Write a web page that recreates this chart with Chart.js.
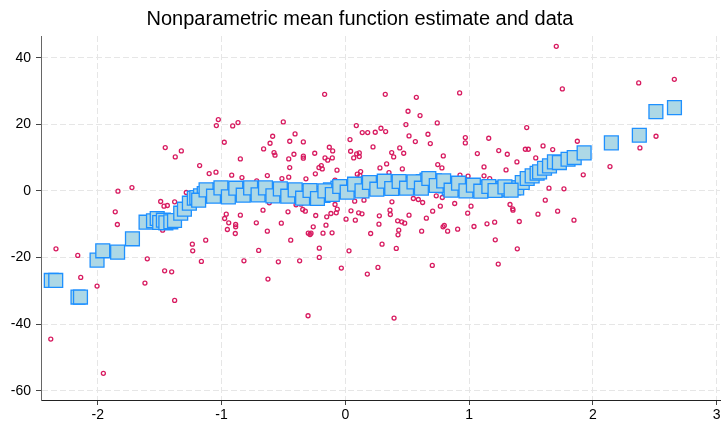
<!DOCTYPE html>
<html>
<head>
<meta charset="utf-8">
<script src="https://cdn.jsdelivr.net/npm/chart.js@4.4.1/dist/chart.umd.min.js"></script>
<style>
  html, body { margin: 0; padding: 0; background: #fff; }
  #wrap { width: 723px; height: 424px; }
</style>
</head>
<body>
<div id="wrap"><canvas id="c" width="723" height="424"></canvas></div>
<script>
/* ── data ── */

const TITLE = 'Nonparametric mean function estimate and data';
const X_TICKS = [-2, -1, 0, 1, 2, 3];
const Y_TICKS = [-60, -40, -20, 0, 20, 40];

// observed data (hollow circles)
const DATA_X = [
  -1.026, -1.042, -0.867, -0.91, -0.978, -1.455, -1.374, -1.325, -1.177, -1.10, -1.045, -0.848, -0.918, -0.835, -0.66,
  -0.63, -0.716, -1.837, -1.724, -1.859, -1.492, -1.465, -1.438, -1.379, -1.285, -0.962, -0.975, -0.848, -0.665,
  -1.842, -2.338, -2.162, -2.138, -2.006, -2.38, -1.955, -1.60, -1.619, -1.46, -1.403, -1.379, -1.236, -1.233, -1.128,
  -1.163, -1.476, -0.942, -0.886, -0.886, -0.953, -0.889, -0.719, -0.70, -0.819, -0.63, -0.625,
  -0.167, 0.323, 0.574, 0.924, 0.507, 0.604, 0.743, -0.501, 0.089, 0.137, 0.181, 0.242, 0.288, 0.326, 0.49, 0.515,
  0.566, 0.668, 0.687, 0.97, 0.97, 1.159, -0.587, -0.608, -0.406, -0.449, -0.339, -0.576, -0.568, -0.415, -0.339,
  -0.339, -0.247, -0.457, -0.129, -0.102, -0.164, -0.142, -0.105, -0.194, -0.213, -0.186, -0.449, -0.242, -0.067,
  -0.457, -0.512, -0.318, 0.038, 0.043, 0.092, 0.113, 0.113, 0.068, 0.224, 0.375, 0.391, 0.334, 0.28, 0.44, 0.472,
  0.461, 0.097, 0.124, 0.119, 0.792, 0.747, 0.781, 1.067, 1.121, 0.927, 0.992, 1.121,
  -0.614, -0.463, -0.398, -0.358, -0.344, -0.323, -0.239, -0.083, -0.065, -0.073, -0.116, 0.076, 0.046, 0.108, 0.135,
  0.151, 0.275, 0.361, 0.364, 0.377, 0.515, 0.55, 0.59, 0.625, 0.735, 0.784, 0.706, 0.768, 0.884, 1.016, 0.989, 0.655,
  -0.517, -0.441, -0.259, -0.299, -0.285, -0.277, -0.150, -0.156, -0.18, -0.107, -0.21, -0.21, -0.541, -0.369, -0.301,
  -0.032, 0.006, 0.030, 0.081, 0.205, 0.178, 0.264, 0.297, 0.272, 0.423, 0.456, 0.48, 0.432, 0.426, 0.412, 0.394,
  0.617, 0.703, 0.79, 0.80, 0.827, 0.908, 1.04, 1.145,
  1.207, 1.212, 1.236, 1.331, 1.353, 1.355, 1.406, 1.39, 1.557, 1.616, 1.716, 1.848,
  1.705, 1.754, 2.371, 2.659, 2.511, 2.381, 2.139, 1.466, 1.24, 1.309, 1.455, 1.479, 1.598, 1.676, 1.875, 1.539,
  1.387, 1.299, 1.167, 1.923, 1.646, 1.767, -0.083, 0.353
];
const DATA_Y = [
  21.4, 19.6, 20.5, 19.5, 14.6, 13.0, 10.2, 12.0, 7.6, 5.2, 5.6, 9.6, 4.7, 4.0, 12.6,
  4.6, 3.0, -0.1, 1.0, -6.3, -3.2, -4.6, -4.4, -3.3, -0.5, -7.0, -8.3, -7.3, -5.8,
  -10.1, -17.4, -19.4, -26.0, -28.6, -44.5, -54.8, -20.4, -27.7, -24.0, -24.3, -32.9, -16.0, -18.0, -14.8,
  -21.2, -11.8, -9.6, -10.1, -10.8, -11.6, -12.8, -9.6, -17.9, -21.0, -12.1, -26.5,
  29.0, 29.0, 28.1, 29.4, 23.9, 22.6, 20.4, 20.7, 19.6, 17.5, 17.5, 17.6, 18.8, 17.8, 19.9, 16.5,
  14.8, 17.0, 14.2, 16.0, 14.4, 15.8, 16.4, 14.3, 17.1, 14.9, 14.7, 11.5, 10.7, 11.0, 10.4,
  9.8, 11.3, 9.6, 13.1, 12.0, 9.9, 9.2, 9.9, 7.6, 7.0, 6.6, 7.0, 5.1, 6.2,
  4.1, 3.7, 3.6, 15.4, 11.9, 11.1, 11.4, 10.3, 9.9, 13.2, 11.5, 10.2, 8.1, 6.9, 12.9, 11.3,
  6.6, 5.0, 5.8, 4.6, 10.5, 7.9, 6.9, 11.2, 7.2, 4.7, 4.4, 4.5,
  -3.6, -6.3, -4.2, -4.0, -5.6, -6.1, -7.4, -4.1, -5.5, -6.6, -6.8, -3.1, -6.0, -6.6, -6.9,
  -2.8, -7.5, -5.8, -7.1, -3.3, -7.3, -2.3, -2.6, -3.5, -1.5, -2.0, -6.1, -4.6, -3.8, -4.6, -6.7, -8.2,
  -9.7, -14.8, -10.8, -12.7, -13.1, -12.7, -7.8, -10.3, -12.7, -12.6, -17.2, -20.0, -21.3, -21.0, -37.5,
  -23.2, -8.5, -18.0, -8.8, -12.8, -25.0, -23.0, -16.0, -10.0, -9.0, -9.3, -9.7, -11.8, -13.2, -17.3, -38.2,
  -12.1, -22.4, -10.8, -10.4, -12.1, -11.5, -10.7, -9.9,
  -9.4, -14.7, -22.0, -4.1, -5.4, -5.8, -9.2, -17.4, -7.0, -2.8, -6.1, -8.8,
  43.4, 30.6, 32.4, 33.5, 16.4, 12.9, 7.3, 19.0, 12.1, 11.0, 12.5, 12.5, 13.5, 12.4, 14.9, 9.9,
  8.7, 6.3, 3.7, 4.8, 0.8, 0.6, 3.2, 5.5
];

// nonparametric mean estimate (filled squares)
const FIT_X = [
  -2.376, -2.34, -2.16, -2.14, -2.006, -1.96, -1.84, -1.72, -1.61, -1.55, -1.52, -1.50, -1.47, -1.45, -1.41, -1.38,
  -1.33, -1.30, -1.26, -1.22, -1.20, -1.17, -1.14, -1.11, -1.08, -1.05, -1.02, -0.99, -0.96, -0.93, -0.90, -0.87,
  -0.84, -0.81, -0.78, -0.75, -0.72, -0.69, -0.66, -0.63, -0.60, -0.57, -0.54, -0.51, -0.48, -0.45, -0.42, -0.39,
  -0.36, -0.33, -0.30, -0.27, -0.24, -0.21, -0.18, -0.15, -0.12, -0.09, -0.06, -0.03, 0.00, 0.03, 0.06, 0.09,
  0.12, 0.15, 0.18, 0.21, 0.24, 0.27, 0.30, 0.33, 0.36, 0.39, 0.42, 0.45, 0.48, 0.51, 0.54, 0.57, 0.60, 0.63,
  0.66, 0.69, 0.72, 0.75, 0.78, 0.81, 0.84, 0.87, 0.90, 0.93, 0.96, 0.99, 1.02, 1.05, 1.08, 1.11, 1.14, 1.18,
  1.23, 1.26, 1.31, 1.36, 1.385, 1.43, 1.47, 1.51, 1.55, 1.57, 1.61, 1.65, 1.69, 1.73, 1.80, 1.85, 1.93,
  2.15, 2.376, 2.51, 2.66,
  -1.185, -1.125, -1.065, -1.005, -0.945, -0.885, -0.825, -0.765, -0.705, -0.645, -0.585, -0.525, -0.465, -0.405,
  -0.345, -0.285, -0.225, -0.165, -0.105, -0.045, 0.015, 0.075, 0.135, 0.195, 0.255, 0.315, 0.375, 0.435, 0.495,
  0.555, 0.615, 0.675, 0.735, 0.795, 0.855, 0.915, 0.975, 1.035, 1.095, 1.16, 1.21, 1.29, 1.34
];
const FIT_Y = [
  -26.9, -26.9, -31.9, -31.9, -20.8, -18.0, -18.4, -14.4, -9.4, -9.0, -8.3, -9.5, -8.8, -9.6, -9.3, -8.9,
  -6.7, -5.5, -3.7, -2.2, -2.0, -1.5, -0.8, -1.2, -0.3, -0.9, 0.2, -0.6, -1.3, -0.2, 0.4, -0.8,
  -0.1, 0.5, -0.7, 0.3, -0.4, 0.6, -0.5, 0.2, -0.9, 0.4, -0.3, -1.0, 0.1, -0.7, -1.2, -0.2,
  -1.4, -0.6, -1.5, -0.9, -1.7, -0.8, -1.4, -0.5, 0.3, -0.2, 0.8, 0.2, 1.0, 0.4, 1.3, 0.6,
  1.5, 0.9, 1.8, 1.1, 2.0, 1.2, 2.2, 1.6, 2.4, 1.5, 2.1, 1.4, 2.3, 1.6, 2.0, 1.0, 1.7, 2.8,
  3.2, 2.5, 3.0, 2.0, 2.6, 1.5, 0.9, 1.8, 0.8, 1.5, 0.6, 1.2, 0.4, 1.0, 0.5, 0.9, 0.6, 0.7,
  0.8, 0.3, 0.6, 0.9, 0.9, 2.5, 3.7, 4.5, 5.3, 5.7, 6.8, 7.5, 8.7, 8.5, 9.5, 10.0, 11.4,
  14.4, 16.7, 23.8, 25.0,
  -2.8, 0.3, -1.6, 0.9, -1.8, 0.8, -1.3, 0.9, -1.2, 0.9, -1.5, 0.6, -1.6, 0.3,
  -2.2, 0.1, -2.3, 0.0, -1.1, 1.3, -0.4, 2.0, 0.0, 2.5, 0.5, 2.9, 0.7, 2.8, 0.8,
  2.7, 0.8, 3.7, 1.6, 3.0, 0.2, 2.3, 0.0, 1.7, -0.1, 1.3, 0.1, 1.2, 0.2
];

/* ── chart ── */

const FONT = "'Liberation Sans', Arial, sans-serif";
const pts = (xs, ys) => xs.map((x, i) => ({ x, y: ys[i] }));

function axisOpts(ticks, min, max, borderColor) {
  return {
    type: 'linear', min, max,
    afterBuildTicks: s => { s.ticks = ticks.map(v => ({ value: v })); },
    grid: { color: '#e6e6e6', lineWidth: 1, tickColor: '#444', tickLength: 5, tickBorderDash: [] },
    border: { display: true, color: borderColor, width: 1, dash: [6, 3] },
    ticks: { color: '#000', font: { family: FONT, size: 14 }, padding: 2, maxRotation: 0, autoSkip: false }
  };
}

const xAxis = axisOpts(X_TICKS, -2.459, 3.028, '#222');
xAxis.afterFit = s => { s.height = 24; };
const yAxis = axisOpts(Y_TICKS, -62.8, 46.5, '#666');
yAxis.ticks.padding = 5;
yAxis.afterFit = s => { s.width = 41; };

new Chart(document.getElementById('c'), {
  type: 'scatter',
  data: {
    datasets: [
      {
        label: 'Mean estimate', data: pts(FIT_X, FIT_Y),
        pointStyle: 'rect', pointRadius: 9.8,
        backgroundColor: '#add8e6', borderColor: '#1e90ff', borderWidth: 1.3
      },
      {
        label: 'Data', data: pts(DATA_X, DATA_Y),
        pointStyle: 'circle', pointRadius: 2,
        backgroundColor: 'rgba(0,0,0,0)', borderColor: '#d81b60', borderWidth: 1.3
      }
    ]
  },
  options: {
    responsive: false, animation: false, events: [],
    layout: { autoPadding: false, padding: { left: 0, right: 3, top: 0, bottom: 0 } },
    plugins: {
      legend: { display: false },
      tooltip: { enabled: false },
      title: {
        display: true, text: TITLE, color: '#000',
        font: { family: FONT, size: 20, weight: 'normal' },
        padding: { top: 7, bottom: 5 }
      }
    },
    scales: { x: xAxis, y: yAxis }
  }
});
</script>
</body>
</html>
